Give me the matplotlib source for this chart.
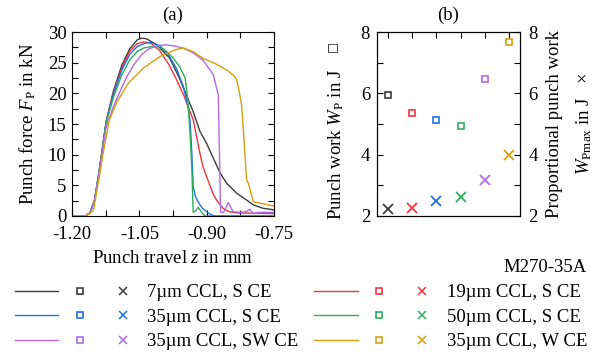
import matplotlib
matplotlib.use("Agg")
import matplotlib.pyplot as plt
from matplotlib.lines import Line2D
from matplotlib.legend_handler import HandlerTuple
from matplotlib.ticker import MultipleLocator

plt.rcParams['font.family'] = ['Liberation Serif', 'DejaVu Sans']
plt.rcParams['mathtext.fontset'] = 'custom'
plt.rcParams['mathtext.rm'] = 'Liberation Serif'
plt.rcParams['mathtext.it'] = 'Liberation Serif:italic'
plt.rcParams['font.size'] = 13.5

# series labels and colours
labels = ['7\u00b5m CCL, S CE', '19\u00b5m CCL, S CE', '35\u00b5m CCL, S CE',
          '50\u00b5m CCL, S CE', '35\u00b5m CCL, SW CE', '35\u00b5m CCL, W CE']
colors = ['#3c3c3c', '#f2353d', '#2172e0', '#2eae5a', '#b46ae6', '#d6a00e']

# (a) punch force curves, z in mm, F in kN
z_7 = [-1.20, -1.17, -1.16, -1.15, -1.14, -1.124, -1.108, -1.089, -1.071, -1.055, -1.045, -1.034,
       -1.011, -0.982, -0.959, -0.930, -0.915, -0.900, -0.870, -0.855, -0.833, -0.811, -0.796,
       -0.774, -0.75]
F_7 = [0, 0, 0.5, 2.5, 7.0, 15.4, 20.3, 24.6, 27.3, 28.7, 29.0, 28.9,
       27.9, 25.7, 22.2, 17.0, 13.8, 11.8, 7.0, 5.3, 3.7, 2.6, 1.8,
       1.25, 1.0]
z_19 = [-1.20, -1.17, -1.16, -1.15, -1.14, -1.124, -1.108, -1.089, -1.071, -1.055, -1.040, -1.025,
        -1.005, -0.985, -0.967, -0.950, -0.937, -0.930, -0.922, -0.915, -0.908, -0.900, -0.885,
        -0.878, -0.863, -0.85, -0.83, -0.75]
F_19 = [0, 0, 0.5, 2.5, 7.0, 15.3, 20.0, 24.2, 26.9, 28.1, 28.4, 28.2,
        27.0, 24.8, 22.2, 19.5, 17.0, 15.7, 12.8, 10.2, 8.0, 6.4, 3.5,
        2.6, 1.2, 0.7, 0.5, 0.4]
z_35 = [-1.20, -1.17, -1.16, -1.15, -1.14, -1.124, -1.108, -1.089, -1.071, -1.055, -1.040, -1.025,
        -1.005, -0.985, -0.967, -0.952, -0.942, -0.937, -0.933, -0.930, -0.925, -0.919, -0.910,
        -0.900, -0.890, -0.88, -0.75]
F_35 = [0, 0, 0.5, 2.5, 7.0, 15.2, 19.8, 23.8, 26.4, 27.6, 28.1, 28.3,
        27.8, 26.3, 24.0, 21.1, 18.0, 15.6, 10.2, 4.8, 3.2, 2.3, 1.3,
        0.7, 0.2, 0, 0]
z_50 = [-1.20, -1.17, -1.16, -1.15, -1.14, -1.124, -1.108, -1.089, -1.071, -1.055, -1.040, -1.025,
        -1.011, -0.995, -0.975, -0.960, -0.948, -0.942, -0.937, -0.933, -0.930, -0.925, -0.919,
        -0.911, -0.904, -0.75]
F_50 = [0, 0, 0.5, 2.5, 7.0, 15.2, 19.3, 23.0, 25.5, 26.8, 27.4, 27.6,
        27.6, 27.2, 25.8, 24.3, 22.5, 19.0, 13.5, 7.5, 0.6, 0.8, 1.4,
        0.6, 0, 0]
z_sw = [-1.20, -1.17, -1.16, -1.15, -1.14, -1.124, -1.108, -1.093, -1.078, -1.063, -1.045, -1.030,
        -1.010, -0.990, -0.970, -0.950, -0.930, -0.908, -0.885, -0.874, -0.869, -0.862, -0.852,
        -0.841, -0.825, -0.812, -0.804, -0.796, -0.785, -0.75]
F_sw = [0, 0, 0.5, 2.4, 6.8, 14.5, 17.8, 20.3, 22.7, 24.6, 26.3, 27.2,
        27.8, 27.9, 27.7, 27.3, 26.6, 25.4, 23.0, 19.7, 0.6, 0.6, 2.2,
        0.7, 0.6, 0.7, 1.1, 0.4, 0.6, 0.6]
z_w = [-1.20, -1.17, -1.16, -1.152, -1.14, -1.13, -1.117, -1.100, -1.075, -1.041, -1.004, -0.970,
       -0.952, -0.930, -0.908, -0.880, -0.855, -0.841, -0.833, -0.826, -0.822, -0.819, -0.811,
       -0.807, -0.796, -0.775, -0.75]
F_w = [0, 0, 0.4, 1.0, 6.0, 10.5, 15.6, 18.6, 21.6, 24.1, 26.0, 27.1,
       27.4, 26.8, 25.7, 24.8, 23.8, 23.0, 22.2, 19.7, 18.0, 14.8, 5.9,
       5.3, 2.3, 2.0, 1.6]

# (b) punch work and proportional punch work in J
positions = [1, 2, 3, 4, 5, 6]
W_p = [5.93, 5.37, 5.12, 4.92, 6.48, 7.68]
W_pmax = [2.22, 2.25, 2.50, 2.62, 3.17, 4.00]

curves = [(z_7, F_7), (z_19, F_19), (z_35, F_35), (z_50, F_50), (z_sw, F_sw), (z_w, F_w)]

fig = plt.figure(figsize=(6.03, 3.55), dpi=100)
ax1 = fig.add_axes([72/603, 139/355, 202/603, 184/355])
ax2 = fig.add_axes([377/603, 139/355, 143/603, 184/355])
ax3 = ax2.twinx()

for (z, F), c in zip(curves, colors):
    ax1.plot(z, F, color=c, lw=1.0)
ax1.set_xlim(-1.2, -0.75)
ax1.set_ylim(0, 30)
ax1.set_xticks([-1.2, -1.05, -0.9, -0.75])
ax1.set_xticklabels(['-1.20', '-1.05', '-0.90', '-0.75'])
ax1.xaxis.set_minor_locator(MultipleLocator(0.075))
ax1.yaxis.set_major_locator(MultipleLocator(5))
ax1.yaxis.set_minor_locator(MultipleLocator(2.5))
ax1.tick_params(which='both', direction='in', top=True, right=True, length=4, width=0.8)
ax1.tick_params(axis='x', pad=7)
ax1.tick_params(axis='y', pad=4)
ax1.set_xlabel('Punch travel $z$ in mm', labelpad=5)
ax1.set_ylabel('Punch force $F_\\mathrm{P}$ in kN', labelpad=7)
ax1.set_title('(a)', fontsize=13.5, pad=9)

for x, w, c in zip(positions, W_p, colors):
    ax2.plot(x, w, 's', mfc='none', mec=c, ms=5, mew=1.2)
for x, w, c in zip(positions, W_pmax, colors):
    ax3.plot(x, w, 'x', color=c, ms=7, mew=1.3)
for a in (ax2, ax3):
    a.set_ylim(2, 8)
    a.yaxis.set_major_locator(MultipleLocator(2))
    a.yaxis.set_minor_locator(MultipleLocator(1))
ax2.set_xlim(0.55, 6.45)
ax2.set_xticks(positions)
ax2.tick_params(axis='x', which='both', direction='in', top=True, bottom=False,
                labelbottom=False, length=4, width=0.8)
ax2.tick_params(axis='y', which='both', direction='in', length=4, width=0.8, pad=5)
ax3.tick_params(axis='y', which='both', direction='in', length=4, width=0.8, pad=6)
ax2.set_ylabel('Punch work $W_\\mathrm{P}$ in J')
ax2.yaxis.set_label_coords(-0.215, 0.39)
ax3.set_ylabel('Proportional punch work\n$W_\\mathrm{Pmax}$ in J   \u00d7', labelpad=6,
               linespacing=1.75)
ax2.set_title('(b)', fontsize=13.5, pad=9)
# small hollow square that marks the left axis of (b)
fig.text(333/603, 1 - 46/355, '\u25a1', family='DejaVu Sans', fontsize=8.5,
         ha='center', va='center', rotation=90)

fig.text(587/603, 1 - 268/355, 'M270-35A', ha='right', va='center', fontsize=13.5)

handles = []
for c in colors:
    handles.append((Line2D([], [], color=c, lw=1.0),
                    Line2D([], [], ls='none', marker='s', mfc='none', mec=c, ms=4, mew=1.2),
                    Line2D([], [], ls='none', marker='x', color=c, ms=6, mew=1.1)))
order = [0, 2, 4, 1, 3, 5]
fig.legend([handles[i] for i in order], [labels[i] for i in order],
           handler_map={tuple: HandlerTuple(ndivide=None, pad=0.0)},
           ncol=2, loc='upper left', bbox_to_anchor=(15/603, 1 - 284/355),
           frameon=False, handlelength=6.9, handletextpad=0.15,
           columnspacing=0.85, labelspacing=0.4, borderaxespad=0, borderpad=0)

fig.savefig('out.png', dpi=100)
